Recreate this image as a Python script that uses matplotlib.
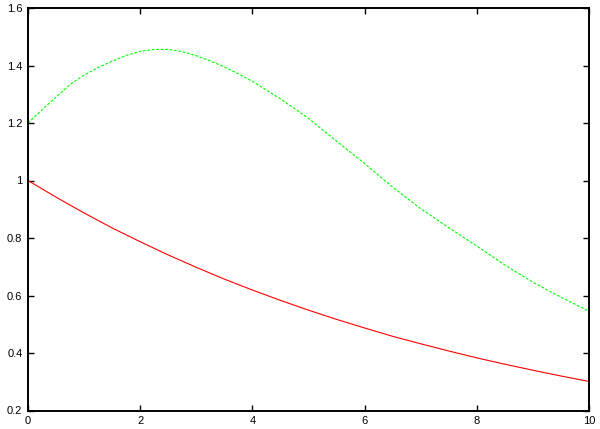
import matplotlib
matplotlib.use("Agg")
import matplotlib.pyplot as plt
from matplotlib.ticker import FormatStrFormatter, FuncFormatter

# values
red_x = [0.0, 0.5, 1.0, 1.5, 2.0, 2.5, 3.0, 3.5, 4.0, 4.5, 5.0,
         5.5, 6.0, 6.5, 7.0, 7.5, 8.0, 8.5, 9.0, 9.5, 10.0]
red_vals = [1.000, 0.942, 0.887, 0.835, 0.787, 0.741, 0.698, 0.657, 0.619, 0.583, 0.549,
            0.517, 0.487, 0.458, 0.432, 0.407, 0.383, 0.361, 0.340, 0.320, 0.301]

green_x = [0.0, 0.25, 0.5, 0.75, 1.0, 1.25, 1.5, 1.75, 2.0, 2.25, 2.5, 2.75,
           3.0, 3.25, 3.5, 3.75, 4.0, 4.5, 5.0, 5.5, 6.0, 6.5, 7.0, 7.5,
           8.0, 8.5, 9.0, 9.5, 10.0]
green_vals = [1.200, 1.246, 1.290, 1.334, 1.367, 1.393, 1.415, 1.435, 1.449, 1.456, 1.456, 1.448,
              1.434, 1.416, 1.395, 1.371, 1.345, 1.284, 1.216, 1.137, 1.059, 0.977, 0.902, 0.836,
              0.772, 0.706, 0.646, 0.594, 0.545]

x_ticks = [0, 2, 4, 6, 8, 10]
y_ticks = [0.2, 0.4, 0.6, 0.8, 1.0, 1.2, 1.4, 1.6]

plt.rcParams['font.family'] = ['Liberation Sans', 'DejaVu Sans']

fig = plt.figure(figsize=(6.0, 4.29), dpi=100)
ax = fig.add_axes([28 / 600, 18.5 / 429, 561 / 600, 402.5 / 429])

ax.plot(red_x, red_vals, color='#ff0000', linewidth=0.8)
ax.plot(green_x, green_vals, color='#00ff00', linewidth=0.8, dashes=(2.5, 1.5))

ax.set_xlim(0, 10)
ax.set_ylim(0.2, 1.6)
ax.set_xticks(x_ticks)
ax.set_yticks(y_ticks)
ax.xaxis.set_major_formatter(FormatStrFormatter('%g'))
ax.yaxis.set_major_formatter(FuncFormatter(lambda v, p: '%g' % round(v, 2)))

ax.tick_params(direction='in', length=4, width=1, top=True, right=True,
               labelsize=8, pad=4, colors='black')
for sp in ax.spines.values():
    sp.set_linewidth(1.4)

fig.savefig('out.png', dpi=100)
